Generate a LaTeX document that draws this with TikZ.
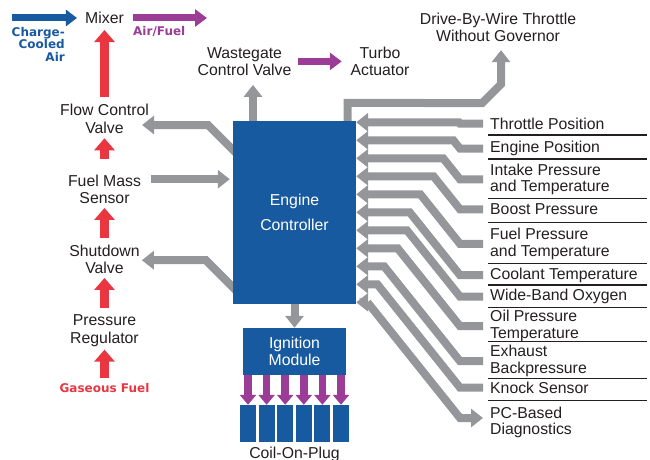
\documentclass[tikz,border=0pt]{standalone}
\usepackage{fontspec}
\setmainfont{Liberation Sans}
\newfontfamily\tagfont{DejaVu Sans}
\usetikzlibrary{arrows.meta,calc}
\definecolor{ink}{RGB}{35,31,32}
\definecolor{blu}{RGB}{24,90,160}
\definecolor{rd}{RGB}{233,54,64}
\definecolor{pur}{RGB}{155,60,150}
\definecolor{gry}{RGB}{148,150,153}
\pgfdeclarelayer{back}
\pgfsetlayers{back,main}

\tikzset{
  lbl/.style={inner sep=0pt, align=center, text=ink, font=\fontsize{15.8}{17.5}\selectfont},
  sensor/.style={lbl, align=left, anchor=west, font=\fontsize{15.8}{16.7}\selectfont},
  tag/.style={inner sep=0pt, font=\tagfont\bfseries\fontsize{12}{12.4}\selectfont},
  unit/.style={fill=blu, inner sep=0pt, text=white, align=center},
  coil/.style={fill=blu, minimum width=16pt, minimum height=37pt, inner sep=0pt},
  gline/.style={draw=gry, line width=8pt},
  gtip/.style={gline, -{Triangle[width=18pt,length=12pt]}},
  rarrow/.style={draw=rd, line width=9pt, -{Triangle[width=20pt,length=12pt]}},
  barrow/.style={draw=blu, line width=7pt, -{Triangle[width=16pt,length=11pt]}},
  parrow/.style={draw=pur, line width=7pt, -{Triangle[width=17pt,length=12pt]}},
  sepline/.style={draw=ink, line width=1.1pt}
}

\begin{document}
\begin{tikzpicture}[x=1pt,y=-1pt]
\useasboundingbox (0,0) rectangle (650,460);

% controller, ignition module and coils
\node[unit, minimum width=123pt, minimum height=183pt, font=\fontsize{15.8}{25}\selectfont] (ecu) at (294.5,212.5) {Engine\\Controller};
\node[unit, minimum width=103pt, minimum height=47pt, font=\fontsize{15.8}{17.4}\selectfont] (ign) at (294.5,351.5) {Ignition\\Module};
\foreach \i in {1,...,6} {
  \node[coil] (c\i) at ({229.4+18.6*\i},423.5) {};
  \draw[draw=pur, line width=7.5pt, -{Triangle[width=16pt,length=10pt]}] (ign.south -| c\i) -- (c\i.north);
}
\node[lbl, anchor=base] (cop) at (294.5,458) {Coil-On-Plug};
\draw[gtip] (ecu.south) -- (ign.north);

% gas train
\node[lbl] (mixer) at (104.5,18) {Mixer};
\node[lbl] (fcv) at (104.5,119) {Flow Control\\Valve};
\node[lbl] (fms) at (104.5,189.2) {Fuel Mass\\Sensor};
\node[lbl] (sdv) at (104.5,259.2) {Shutdown\\Valve};
\node[lbl] (preg) at (104.5,330.9) {Pressure\\Regulator};
\node[tag, text=rd, anchor=base] (gas) at (104.5,392.7) {Gaseous Fuel};
\node[tag, text=blu, align=right, anchor=north east] (air) at (65,26.9) {Charge-\\Cooled\\Air};
\node[tag, text=pur, anchor=base west] (af) at (133,36) {Air/Fuel};

\draw[barrow] (air.west |- mixer.west) -- ([xshift=-8pt]mixer.west);
\draw[parrow] (af.west |- mixer.east) -- ++(74,0);

\draw[rarrow, shorten <=7.5pt, shorten >=6pt] (fcv.north) -- (mixer.south);
\draw[rarrow, shorten <=15.5pt, shorten >=4.5pt] (fms.north) -- (fcv.south);
\draw[rarrow, shorten <=6.5pt, shorten >=4pt] (sdv.north) -- (fms.south);
\draw[rarrow, shorten <=6.5pt, shorten >=4pt] (preg.north) -- (sdv.south);
\draw[rarrow, shorten <=5.5pt, shorten >=2.7pt] (gas.north) -- (preg.south);

% controller to valves
\begin{pgfonlayer}{back}
\draw[gline, {Triangle[width=18pt,length=12pt]}-] ([shift={(-7,6)}]fcv.east) -- ++(66,0) -- ++(32,32);
\draw[gline, {Triangle[width=18pt,length=12pt]}-] ([shift={(2,1)}]sdv.east) -- ++(64,0) -- ++(34,34);
\end{pgfonlayer}
\coordinate (fmsout) at ([shift={(10,-10)}]fms.east);
\draw[gtip, shorten >=3pt] (fmsout) -- (fmsout -| ecu.west);

% wastegate and turbo
\node[lbl] (wgv) at (244.5,61.4) {Wastegate\\Control Valve};
\node[lbl] (turbo) at (380,61.4) {Turbo\\Actuator};
\draw[parrow] ([xshift=6pt]wgv.east) -- ([xshift=-8.6pt]turbo.west);
\coordinate (wgin) at ([shift={(8.5,9)}]wgv.south);
\draw[gtip] (wgin |- ecu.north) -- (wgin);

% throttle
\node[lbl] (dbw) at (498,27.4) {Drive-By-Wire Throttle\\Without Governor};
\coordinate (dbwin) at ([shift={(3,8)}]dbw.south);
\draw[gtip] ([xshift=53pt]ecu.north) -- ++(0,-18) -- ([shift={(-19,53)}]dbwin) -- ([shift={(0,34)}]dbwin) -- (dbwin);

% sensors
\node[sensor] (s1) at (490,123.6) {Throttle Position};
\node[sensor] (s2) at (490,148.6) {Engine Position};
\node[sensor] (s3) at (490,179.3) {Intake Pressure\\and Temperature};
\node[sensor] (s4) at (490,209.3) {Boost Pressure};
\node[sensor] (s5) at (490,243.9) {Fuel Pressure\\and Temperature};
\node[sensor] (s6) at (490,275.2) {Coolant Temperature};
\node[sensor] (s7) at (490,296.6) {Wide-Band Oxygen};
\node[sensor] (s8) at (490,326.2) {Oil Pressure\\Temperature};
\node[sensor] (s9) at (490,361.2) {Exhaust\\Backpressure};
\node[sensor] (s10) at (490,387.6) {Knock Sensor};
\node[sensor] (s11) at (490,422.5) {PC-Based\\Diagnostics};

\foreach \y in {135,159,198.3,222.7,263.3,285,307.3,341.7,378.3,400.7}
  \draw[sepline] (488,\y) -- (647,\y);

\foreach \i in {1,...,10} {
  \coordinate (t\i) at ($(ecu.north east)+(0,{1.5+18*(\i-1)})$);
  \draw[gtip] let \p1=(s\i.west), \p2=(t\i) in
    (\x1-7pt,\y1) -- (\x1-30pt,\y1) -- ({\x1-30pt-0.8*(\y2-\y1)},\y2) -- (t\i);
}
\coordinate (t11) at ($(ecu.north east)+(0,181.5)$);
\draw[gline, {Triangle[width=18pt,length=12pt]}-{Triangle[width=18pt,length=12pt]}]
  let \p1=([yshift=4.5pt]s11.west), \p2=(t11) in
  (t11) -- ({\x1-30pt-0.8*(\y2-\y1)},\y2) -- (\x1-30pt,\y1) -- (\x1-7pt,\y1);
\end{tikzpicture}
\end{document}
